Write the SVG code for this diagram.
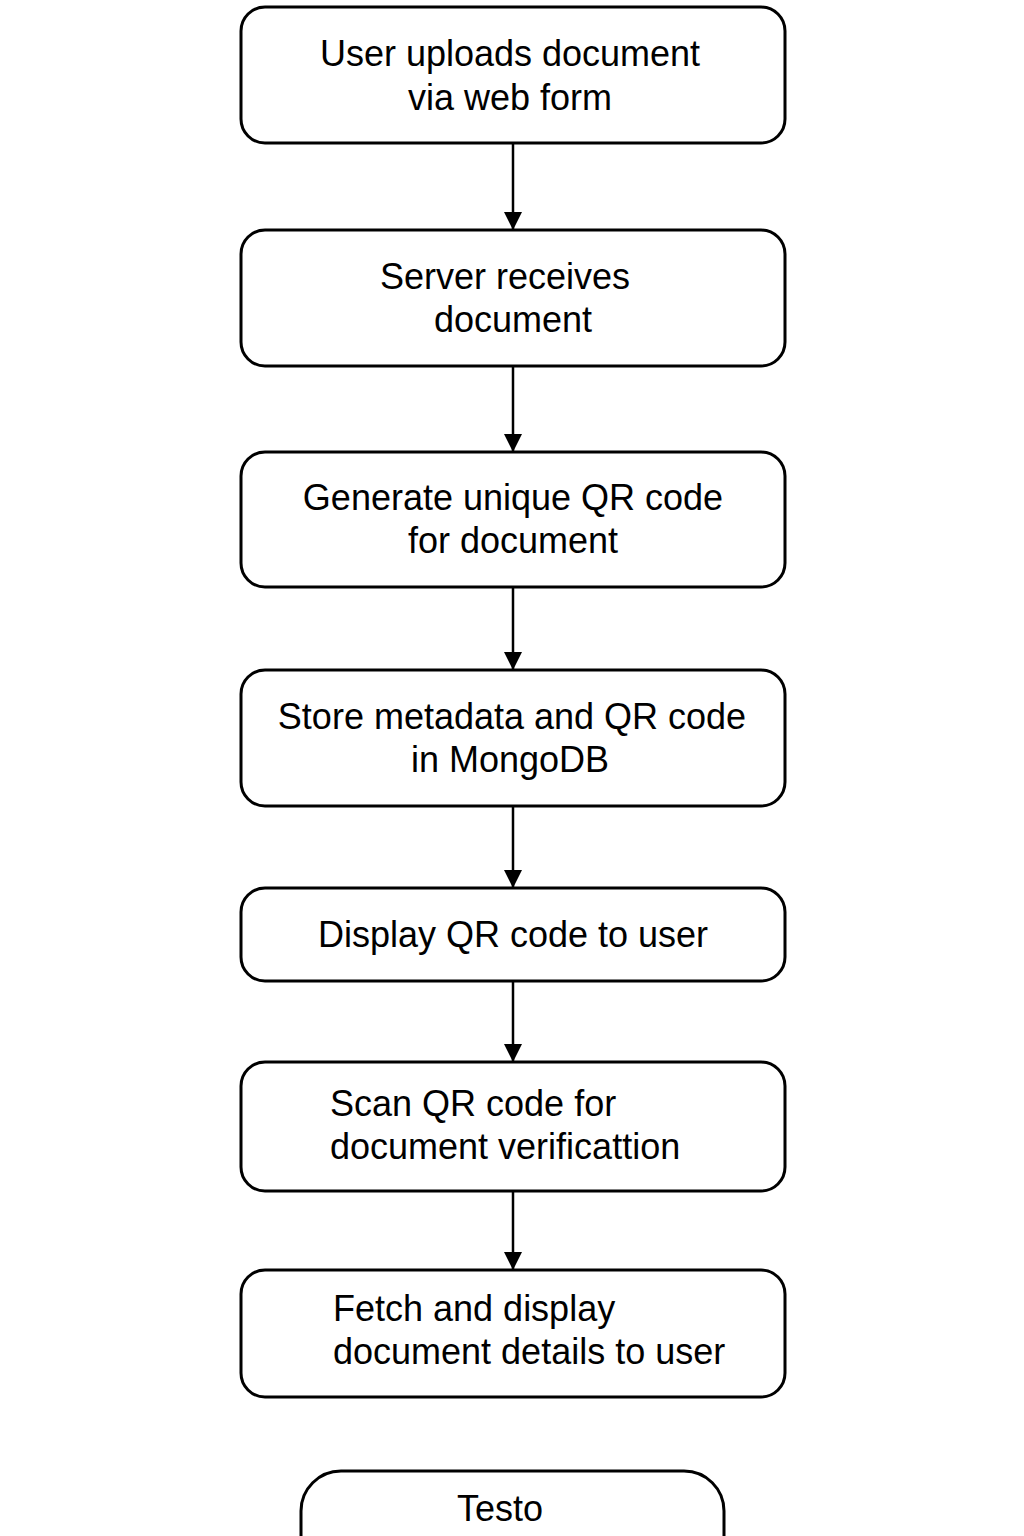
<svg xmlns="http://www.w3.org/2000/svg" width="1024" height="1536" viewBox="0 0 1024 1536">
<style>
.box{fill:#fff;stroke:#000;stroke-width:3}
.t{font-family:"Liberation Sans",Arial,sans-serif;font-size:36px;fill:#000}
.c{text-anchor:middle}
.e{stroke:#000;stroke-width:2.5;fill:none}
</style>
<defs>
<marker id="ah" markerWidth="18" markerHeight="20" refX="17" refY="9" orient="auto" markerUnits="userSpaceOnUse" viewBox="0 0 18 18">
<path d="M0,0 L18,9 L0,18 Z" fill="#000"/>
</marker>
</defs>
<rect width="1024" height="1536" fill="#fff"/>
<g id="connectors">
<line class="e" x1="513" y1="144" x2="513" y2="229" marker-end="url(#ah)"/>
<line class="e" x1="513" y1="367" x2="513" y2="451" marker-end="url(#ah)"/>
<line class="e" x1="513" y1="588" x2="513" y2="669" marker-end="url(#ah)"/>
<line class="e" x1="513" y1="807" x2="513" y2="887" marker-end="url(#ah)"/>
<line class="e" x1="513" y1="982" x2="513" y2="1061" marker-end="url(#ah)"/>
<line class="e" x1="513" y1="1192" x2="513" y2="1269" marker-end="url(#ah)"/>
</g>
<g id="n1"><rect class="box" x="241" y="7" width="544" height="136" rx="24"/>
<text class="t c" x="510" y="66">User uploads document</text><text class="t c" x="510" y="110">via web form</text></g>
<g id="n2"><rect class="box" x="241" y="230" width="544" height="136" rx="24"/>
<text class="t c" x="505" y="289">Server receives</text><text class="t c" x="513" y="332">document</text></g>
<g id="n3"><rect class="box" x="241" y="452" width="544" height="135" rx="24"/>
<text class="t c" x="513" y="510">Generate unique QR code</text><text class="t c" x="513" y="553">for document</text></g>
<g id="n4"><rect class="box" x="241" y="670" width="544" height="136" rx="24"/>
<text class="t c" x="512" y="729">Store metadata and QR code</text><text class="t c" x="510" y="772">in MongoDB</text></g>
<g id="n5"><rect class="box" x="241" y="888" width="544" height="93" rx="24"/>
<text class="t c" x="513" y="947">Display QR code to user</text></g>
<g id="n6"><rect class="box" x="241" y="1062" width="544" height="129" rx="24"/>
<text class="t" x="330" y="1116">Scan QR code for</text><text class="t" x="330" y="1159">document verificattion</text></g>
<g id="n7"><rect class="box" x="241" y="1270" width="544" height="127" rx="24"/>
<text class="t" x="333" y="1321">Fetch and display</text><text class="t" x="333" y="1364">document details to user</text></g>
<g id="n8"><rect class="box" x="301" y="1471" width="423" height="110" rx="40"/>
<text class="t c" x="500" y="1521">Testo</text></g>
</svg>
